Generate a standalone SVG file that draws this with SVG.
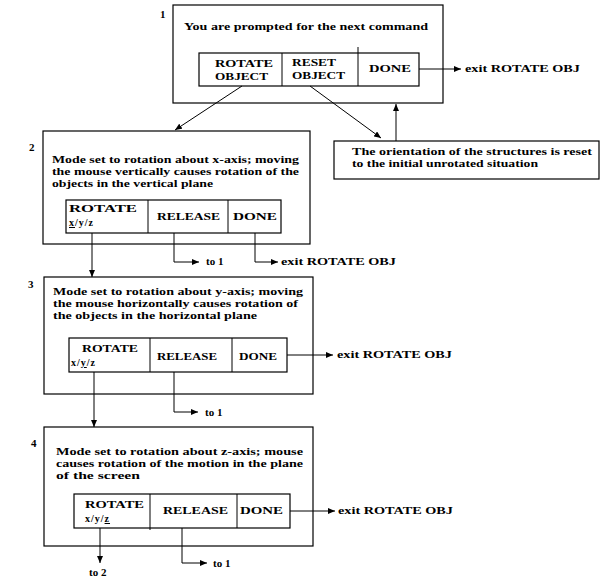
<svg xmlns="http://www.w3.org/2000/svg" width="614" height="583" viewBox="0 0 614 583">
<defs>
<marker id="ah" markerWidth="8" markerHeight="6" refX="7" refY="3" orient="auto" markerUnits="userSpaceOnUse"><path d="M0,0 L7,3 L0,6 z" fill="#000"/></marker>
<style>
.box{fill:#fff;stroke:#000;stroke-width:1.2}
.dv{stroke:#000;stroke-width:1}
.t{font-family:"Liberation Serif",serif;font-size:11px;font-weight:bold;fill:#000}
.s{font-family:"Liberation Serif",serif;font-size:10px;font-weight:bold;fill:#000;letter-spacing:1px}
.u{text-decoration:underline}
.c{fill:none;stroke:#000;stroke-width:1}
</style>
</defs>
<rect width="614" height="583" fill="#fff"/>

<g id="n1">
<rect class="box" x="173" y="5" width="270" height="98"/>
<text class="t" x="160" y="18">1</text>
<text class="t" x="184" y="30" textLength="244" lengthAdjust="spacingAndGlyphs">You are prompted for the next command</text>
<rect class="box" x="199" y="53" width="220" height="33"/>
<line class="dv" x1="282" y1="53" x2="282" y2="86"/>
<line class="dv" x1="358" y1="47" x2="358" y2="86"/>
<text class="t" x="215" y="67" textLength="58" lengthAdjust="spacingAndGlyphs">ROTATE</text>
<text class="t" x="215" y="80" textLength="53" lengthAdjust="spacingAndGlyphs">OBJECT</text>
<text class="t" x="292" y="66" textLength="44" lengthAdjust="spacingAndGlyphs">RESET</text>
<text class="t" x="292" y="79" textLength="53" lengthAdjust="spacingAndGlyphs">OBJECT</text>
<text class="t" x="369" y="72" textLength="42" lengthAdjust="spacingAndGlyphs">DONE</text>
</g>

<g id="n5">
<rect class="box" x="334" y="141" width="265" height="38"/>
<text class="t" x="352" y="155" textLength="240" lengthAdjust="spacingAndGlyphs">The orientation of the structures is reset</text>
<text class="t" x="352" y="167" textLength="186" lengthAdjust="spacingAndGlyphs">to the initial unrotated situation</text>
</g>

<g id="n2">
<rect class="box" x="43" y="131" width="267" height="113"/>
<text class="t" x="29" y="151">2</text>
<text class="t" x="52" y="163" textLength="247" lengthAdjust="spacingAndGlyphs">Mode set to rotation about x-axis; moving</text>
<text class="t" x="52" y="175" textLength="247" lengthAdjust="spacingAndGlyphs">the mouse vertically causes rotation of the</text>
<text class="t" x="52" y="187" textLength="161" lengthAdjust="spacingAndGlyphs">objects in the vertical plane</text>
<rect class="box" x="66" y="200" width="215" height="33"/>
<line class="dv" x1="148" y1="200" x2="148" y2="233"/>
<line class="dv" x1="228" y1="200" x2="228" y2="233"/>
<text class="t" x="69" y="212" textLength="68" lengthAdjust="spacingAndGlyphs">ROTATE</text>
<text class="s" x="69" y="226"><tspan class="u">x</tspan>/y/z</text>
<text class="t" x="157" y="220" textLength="63" lengthAdjust="spacingAndGlyphs">RELEASE</text>
<text class="t" x="233" y="220" textLength="44" lengthAdjust="spacingAndGlyphs">DONE</text>
</g>

<g id="n3">
<rect class="box" x="44" y="277" width="269" height="117"/>
<text class="t" x="28" y="288">3</text>
<text class="t" x="53" y="295" textLength="250" lengthAdjust="spacingAndGlyphs">Mode set to rotation about  y-axis; moving</text>
<text class="t" x="53" y="307" textLength="245" lengthAdjust="spacingAndGlyphs">the mouse horizontally causes rotation of</text>
<text class="t" x="53" y="319" textLength="204" lengthAdjust="spacingAndGlyphs">the objects in the horizontal plane</text>
<rect class="box" x="69" y="338" width="218" height="34"/>
<line class="dv" x1="150" y1="338" x2="150" y2="372"/>
<line class="dv" x1="232" y1="338" x2="232" y2="372"/>
<text class="t" x="82" y="352" textLength="56" lengthAdjust="spacingAndGlyphs">ROTATE</text>
<text class="s" x="71" y="366">x/<tspan class="u">y</tspan>/z</text>
<text class="t" x="157" y="360" textLength="60" lengthAdjust="spacingAndGlyphs">RELEASE</text>
<text class="t" x="239" y="360" textLength="38" lengthAdjust="spacingAndGlyphs">DONE</text>
</g>

<g id="n4">
<rect class="box" x="44" y="427" width="269" height="119"/>
<text class="t" x="31" y="447">4</text>
<text class="t" x="56" y="455" textLength="247" lengthAdjust="spacingAndGlyphs">Mode set to rotation about  z-axis; mouse</text>
<text class="t" x="56" y="467" textLength="247" lengthAdjust="spacingAndGlyphs">causes rotation of the motion in the plane</text>
<text class="t" x="56" y="479" textLength="84" lengthAdjust="spacingAndGlyphs">of the screen</text>
<rect class="box" x="74" y="494" width="216" height="34"/>
<line class="dv" x1="150" y1="494" x2="150" y2="530"/>
<line class="dv" x1="237" y1="494" x2="237" y2="528"/>
<text class="t" x="85" y="508" textLength="59" lengthAdjust="spacingAndGlyphs">ROTATE</text>
<text class="s" x="85" y="522">x/y/<tspan class="u">z</tspan></text>
<text class="t" x="163" y="514" textLength="65" lengthAdjust="spacingAndGlyphs">RELEASE</text>
<text class="t" x="240" y="514" textLength="43" lengthAdjust="spacingAndGlyphs">DONE</text>
</g>

<g id="connectors">
<path class="c" d="M419,69 H461" marker-end="url(#ah)"/>
<text class="t" x="465" y="72" textLength="115" lengthAdjust="spacingAndGlyphs">exit ROTATE OBJ</text>
<path class="c" d="M242,86 L175,130" marker-end="url(#ah)"/>
<path class="c" d="M310,86 L381,138" marker-end="url(#ah)"/>
<path class="c" d="M396,141 V104" marker-end="url(#ah)"/>

<path class="c" d="M174,233 V262 H199" marker-end="url(#ah)"/>
<text class="t" x="206" y="265">to 1</text>
<path class="c" d="M255,233 V262 H278" marker-end="url(#ah)"/>
<text class="t" x="281" y="265" textLength="115" lengthAdjust="spacingAndGlyphs">exit ROTATE OBJ</text>
<path class="c" d="M92,233 V277" marker-end="url(#ah)"/>

<path class="c" d="M287,355 H333" marker-end="url(#ah)"/>
<text class="t" x="337" y="358" textLength="115" lengthAdjust="spacingAndGlyphs">exit ROTATE OBJ</text>
<path class="c" d="M174,372 V412 H198" marker-end="url(#ah)"/>
<text class="t" x="205" y="416">to 1</text>
<path class="c" d="M94,372 V427" marker-end="url(#ah)"/>

<path class="c" d="M290,511 H335" marker-end="url(#ah)"/>
<text class="t" x="338" y="514" textLength="115" lengthAdjust="spacingAndGlyphs">exit ROTATE OBJ</text>
<path class="c" d="M182,528 V563 H207" marker-end="url(#ah)"/>
<text class="t" x="213" y="567">to 1</text>
<path class="c" d="M100,528 V563" marker-end="url(#ah)"/>
<text class="t" x="89" y="576">to 2</text>
</g>
</svg>
